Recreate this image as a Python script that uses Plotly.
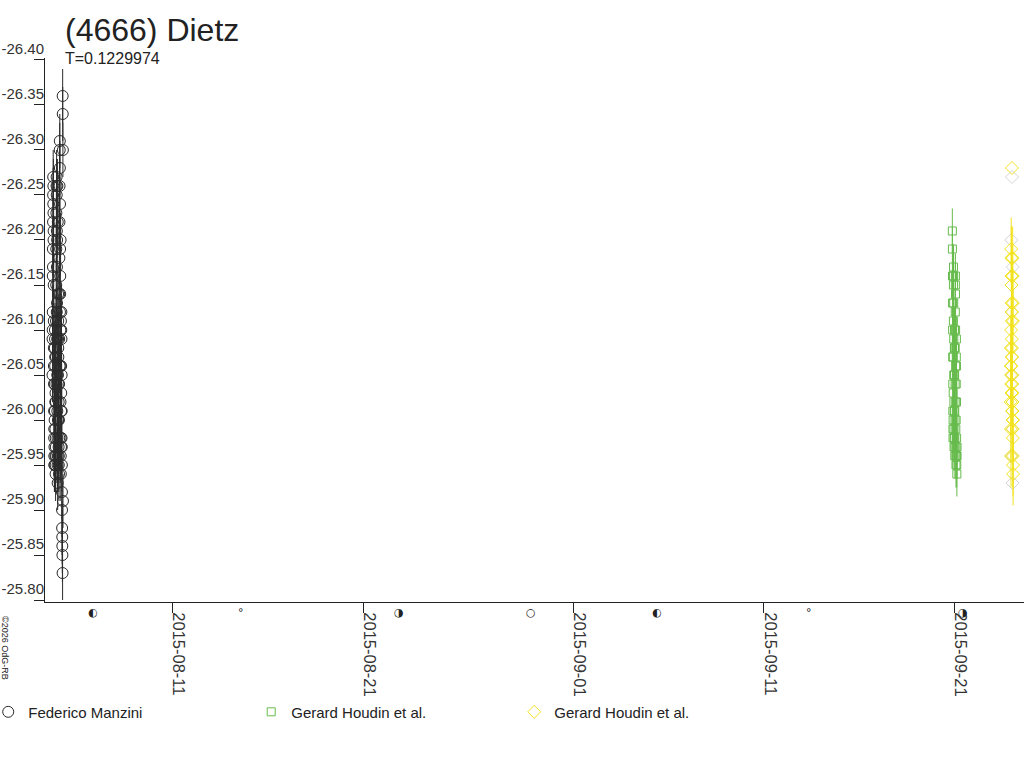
import pandas as pd
import plotly.graph_objects as go

# lightcurve of (4666) Dietz, reduced magnitudes, times as hours from a base day
BLACK_BASE = "2015-08-04"
BLACK_HOURS = [17.0, 17.1, 17.3, 17.4, 17.5, 17.7, 17.8, 17.9, 18.1, 18.2,
               18.3, 18.5, 18.6, 18.7, 18.9, 19.0, 19.1, 19.3, 19.4, 19.5,
               19.7, 19.8, 19.9, 20.1, 20.2, 20.3, 20.5, 20.6, 20.7, 20.9,
               21.0, 21.1, 21.3, 21.4, 21.5, 21.7, 21.8, 21.9, 22.1, 22.2,
               22.3, 22.5, 22.6, 22.7, 22.9, 23.0, 23.1, 23.3, 23.4, 23.5,
               23.7, 23.8, 23.9, 24.1, 24.2, 24.3, 24.5, 24.6, 24.7, 24.9,
               25.0, 25.1, 25.3, 25.4, 25.5, 25.7, 25.8, 25.9, 26.1, 26.2,
               26.3, 26.5, 26.6, 26.7, 26.9, 27.0, 27.1, 27.3, 27.4, 27.5,
               27.7, 27.8, 27.9, 28.1, 28.2, 28.3, 28.5, 28.6, 28.7, 28.9,
               29.0, 29.1, 29.3, 29.4, 29.5, 29.7, 29.8, 29.9, 30.1, 30.2,
               17.2, 17.6, 18.0, 18.4, 18.8, 19.2, 19.6, 20.0, 20.4, 20.8,
               21.2, 21.6, 22.0, 22.4, 22.8, 23.2, 23.6, 24.0, 24.4, 24.8,
               25.2, 25.6, 26.0, 26.4, 26.8, 27.2, 27.6, 28.0, 28.4, 28.8]
BLACK_MAG = [-26.05, -26.09, -26.12, -26.16, -26.19, -26.22, -26.25, -26.27, -26.26, -26.23,
             -26.20, -26.15, -26.11, -26.08, -26.04, -26.01, -25.98, -25.96, -25.95, -25.97,
             -26.00, -26.04, -26.08, -26.10, -26.09, -26.06, -26.02, -25.99, -25.96, -25.94,
             -25.95, -25.98, -26.02, -26.07, -26.11, -26.15, -26.19, -26.23, -26.26, -26.27,
             -26.25, -26.21, -26.17, -26.13, -26.09, -26.05, -26.01, -25.98, -25.95, -25.93,
             -25.96, -26.00, -26.05, -26.09, -26.11, -26.08, -26.04, -26.00, -25.97, -25.95,
             -25.96, -26.00, -26.04, -26.09, -26.14, -26.18, -26.22, -26.26, -26.30, -26.31,
             -26.28, -26.24, -26.19, -26.14, -26.10, -26.06, -26.02, -25.98, -25.96, -25.94,
             -25.97, -26.01, -26.06, -26.10, -26.12, -26.09, -26.05, -26.01, -25.97, -25.92,
             -25.90, -25.88, -25.87, -25.86, -25.85, -25.83, -26.36, -26.34, -26.30, -25.91,
             -26.10, -26.17, -26.24, -26.21, -26.06, -25.99, -25.95, -26.01, -26.07, -26.03,
             -25.97, -25.96, -26.04, -26.12, -26.20, -26.26, -26.22, -26.14, -26.07, -26.02,
             -25.94, -25.98, -26.06, -26.12, -26.16, -26.20, -26.11, -26.03, -25.98, -25.95]
BLACK_ERR = 0.03

GREEN_BASE = "2015-09-20"
GREEN_HOURS = [21.0, 21.1, 21.2, 21.3, 21.4, 21.5, 21.6, 21.7, 21.8, 21.9,
               22.0, 22.1, 22.2, 22.3, 22.4, 22.5, 22.6, 22.7, 22.8, 22.9,
               23.0, 23.1, 23.2, 23.3, 23.4, 23.5, 23.6, 23.7, 23.8, 23.9,
               24.0, 24.1, 24.2, 24.3, 24.4, 24.5, 24.6, 24.7, 24.8, 24.9,
               25.0, 25.1, 25.2, 25.3, 25.4, 25.5, 25.6, 25.7, 25.8, 25.9,
               26.0, 26.1, 26.2, 26.3, 26.4, 26.5, 26.6, 26.7, 26.8, 26.9]
GREEN_MAG = [-26.21, -26.19, -26.16, -26.13, -26.10, -26.07, -26.04, -26.01, -25.99, -25.98,
             -26.00, -26.03, -26.07, -26.11, -26.15, -26.17, -26.16, -26.13, -26.09, -26.05,
             -26.02, -25.99, -25.97, -25.98, -26.01, -26.05, -26.08, -26.10, -26.08, -26.05,
             -26.01, -25.98, -25.96, -25.97, -26.00, -26.04, -26.08, -26.12, -26.15, -26.16,
             -26.14, -26.10, -26.06, -26.02, -25.99, -25.96, -25.95, -25.97, -26.00, -26.04,
             -26.07, -26.09, -26.06, -26.02, -25.98, -25.96, -25.95, -25.94, -25.96, -25.97]
GREEN_ERR = 0.025

YELLOW_BASE = "2015-09-23"
YELLOW_HOURS = [24.0, 23.1, 23.2, 24.9, 23.4, 25.0, 23.5, 23.6, 25.2, 23.7,
                23.8, 25.3, 23.9, 22.6, 24.1, 24.2, 22.7, 24.3, 22.9, 24.4,
                23.0, 24.5, 24.6, 22.5, 24.7, 24.8, 25.4, 22.7, 24.9, 25.1,
                25.2, 22.8, 25.4, 25.5, 23.0, 23.3, 23.5, 23.7, 23.9, 24.2]
YELLOW_MAG = [-26.28, -26.19, -26.18, -26.18, -26.16, -26.16, -26.15, -26.13, -26.13, -26.12,
              -26.11, -26.11, -26.09, -26.08, -26.08, -26.07, -26.06, -26.05, -26.05, -26.04,
              -26.04, -26.03, -26.02, -26.02, -26.01, -26.00, -26.00, -25.99, -25.99, -25.98,
              -25.96, -25.96, -25.95, -25.94, -26.10, -26.06, -26.03, -26.12, -26.07, -26.01]
# the lone bright point carries no error bar
YELLOW_ERR = [0.0, 0.035, 0.035, 0.035, 0.035, 0.035, 0.035, 0.035, 0.035, 0.035,
              0.035, 0.035, 0.035, 0.035, 0.035, 0.035, 0.035, 0.035, 0.035, 0.035,
              0.035, 0.035, 0.035, 0.035, 0.035, 0.035, 0.035, 0.035, 0.035, 0.035,
              0.035, 0.035, 0.035, 0.035, 0.035, 0.035, 0.035, 0.035, 0.035, 0.035]

GREY_HOURS = [24.1, 23.2, 25.0, 23.8, 24.5, 24.4, 23.4, 24.7]
GREY_MAG = [-26.27, -26.20, -26.17, -26.12, -26.05, -25.99, -25.96, -25.93]

# moon phases along the time axis
MOON_DATES = ["2015-08-06 20:00", "2015-08-14 14:00", "2015-08-22 21:00", "2015-08-29 19:00",
              "2015-09-05 10:00", "2015-09-13 09:00", "2015-09-21 11:00"]
MOON_SYMBOLS = ["◐", "°", "◑", "○", "◐", "°", "◑"]

DATE_TICKS = ["2015-08-11", "2015-08-21", "2015-09-01", "2015-09-11", "2015-09-21"]
MAG_TICKS = [-26.40, -26.35, -26.30, -26.25, -26.20, -26.15, -26.10,
             -26.05, -26.00, -25.95, -25.90, -25.85, -25.80]

FONT = "Liberation Sans, Arial, sans-serif"


def to_times(base, hours):
    return pd.Timestamp(base) + pd.to_timedelta(hours, unit="h")


fig = go.Figure()

fig.add_trace(go.Scatter(
    x=to_times(BLACK_BASE, BLACK_HOURS), y=BLACK_MAG, mode="markers",
    name="Federico Manzini",
    marker=dict(symbol="circle-open", size=11, color="#2b2b2b", line=dict(width=1)),
    error_y=dict(type="constant", value=BLACK_ERR, color="#2b2b2b", thickness=1, width=0)))

fig.add_trace(go.Scatter(
    x=to_times(GREEN_BASE, GREEN_HOURS), y=GREEN_MAG, mode="markers",
    name="Gerard Houdin et al.",
    marker=dict(symbol="square-open", size=8, color="#66bb4c", line=dict(width=1)),
    error_y=dict(type="constant", value=GREEN_ERR, color="#66bb4c", thickness=1, width=0)))

fig.add_trace(go.Scatter(
    x=to_times(YELLOW_BASE, GREY_HOURS), y=GREY_MAG, mode="markers",
    showlegend=False, hoverinfo="skip",
    marker=dict(symbol="diamond-open", size=10, color="#d4d4d4", line=dict(width=1))))

fig.add_trace(go.Scatter(
    x=to_times(YELLOW_BASE, YELLOW_HOURS), y=YELLOW_MAG, mode="markers",
    name="Gerard Houdin et al.",
    marker=dict(symbol="diamond-open", size=10, color="#f2e21c", line=dict(width=1)),
    error_y=dict(type="data", array=YELLOW_ERR, color="#f2e21c", thickness=1, width=0)))

annotations = []
for d, s in zip(MOON_DATES, MOON_SYMBOLS):
    annotations.append(dict(x=d, xref="x", y=-0.003, yref="paper", yanchor="top",
                            text=s, showarrow=False,
                            font=dict(family="DejaVu Sans", size=11, color="#222222")))

# title, period and credit
annotations.append(dict(x=0.018, y=1.052, xref="paper", yref="paper",
                        xanchor="left", yanchor="middle", text="(4666) Dietz",
                        showarrow=False, font=dict(family=FONT, size=32, color="#222222")))
annotations.append(dict(x=0.018, y=1.0, xref="paper", yref="paper",
                        xanchor="left", yanchor="middle", text="T=0.1229974",
                        showarrow=False, font=dict(family=FONT, size=16, color="#222222")))
annotations.append(dict(x=-0.041, y=-0.022, xref="paper", yref="paper",
                        xanchor="center", yanchor="top", text="©2026 OdG-RB", textangle=90,
                        showarrow=False, font=dict(family=FONT, size=9, color="#222222")))

fig.update_layout(
    width=1024, height=768,
    margin=dict(l=45, r=0, t=58, b=166, autoexpand=False),
    paper_bgcolor="white", plot_bgcolor="white",
    font=dict(family=FONT, size=15, color="#333333"),
    showlegend=True,
    legend=dict(orientation="h", x=-0.058, y=-0.172, xanchor="left", yanchor="top",
                entrywidth=218, entrywidthmode="pixels",
                font=dict(family=FONT, size=15, color="#222222")),
    annotations=annotations,
)

fig.update_xaxes(
    type="date", range=["2015-08-04 07:35", "2015-09-24 15:10"],
    tickvals=DATE_TICKS, ticktext=DATE_TICKS, tickangle=90,
    ticks="outside", ticklen=10, tickcolor="#222222",
    ticklabelshift=6, ticklabelstandoff=-4,
    showline=True, linecolor="#222222", linewidth=1,
    showgrid=False, zeroline=False,
    tickfont=dict(family=FONT, size=16.5, color="#333333"))

# plain hyphen minus signs, as on the original chart
fig.update_yaxes(
    range=[-25.7978, -26.4022],
    tickvals=MAG_TICKS, ticktext=[f"{v:.2f}" for v in MAG_TICKS],
    ticks="outside", ticklen=10, tickcolor="#222222",
    ticklabelposition="outside top", ticklabelstandoff=-3,
    showline=True, linecolor="#222222", linewidth=1,
    showgrid=False, zeroline=False,
    tickfont=dict(family=FONT, size=15, color="#333333"))

# drop the page's default body margin so the figure sits at the window corner
fig.write_html("out.html", config={"displayModeBar": False},
               post_script="document.body.style.margin = '0';")
